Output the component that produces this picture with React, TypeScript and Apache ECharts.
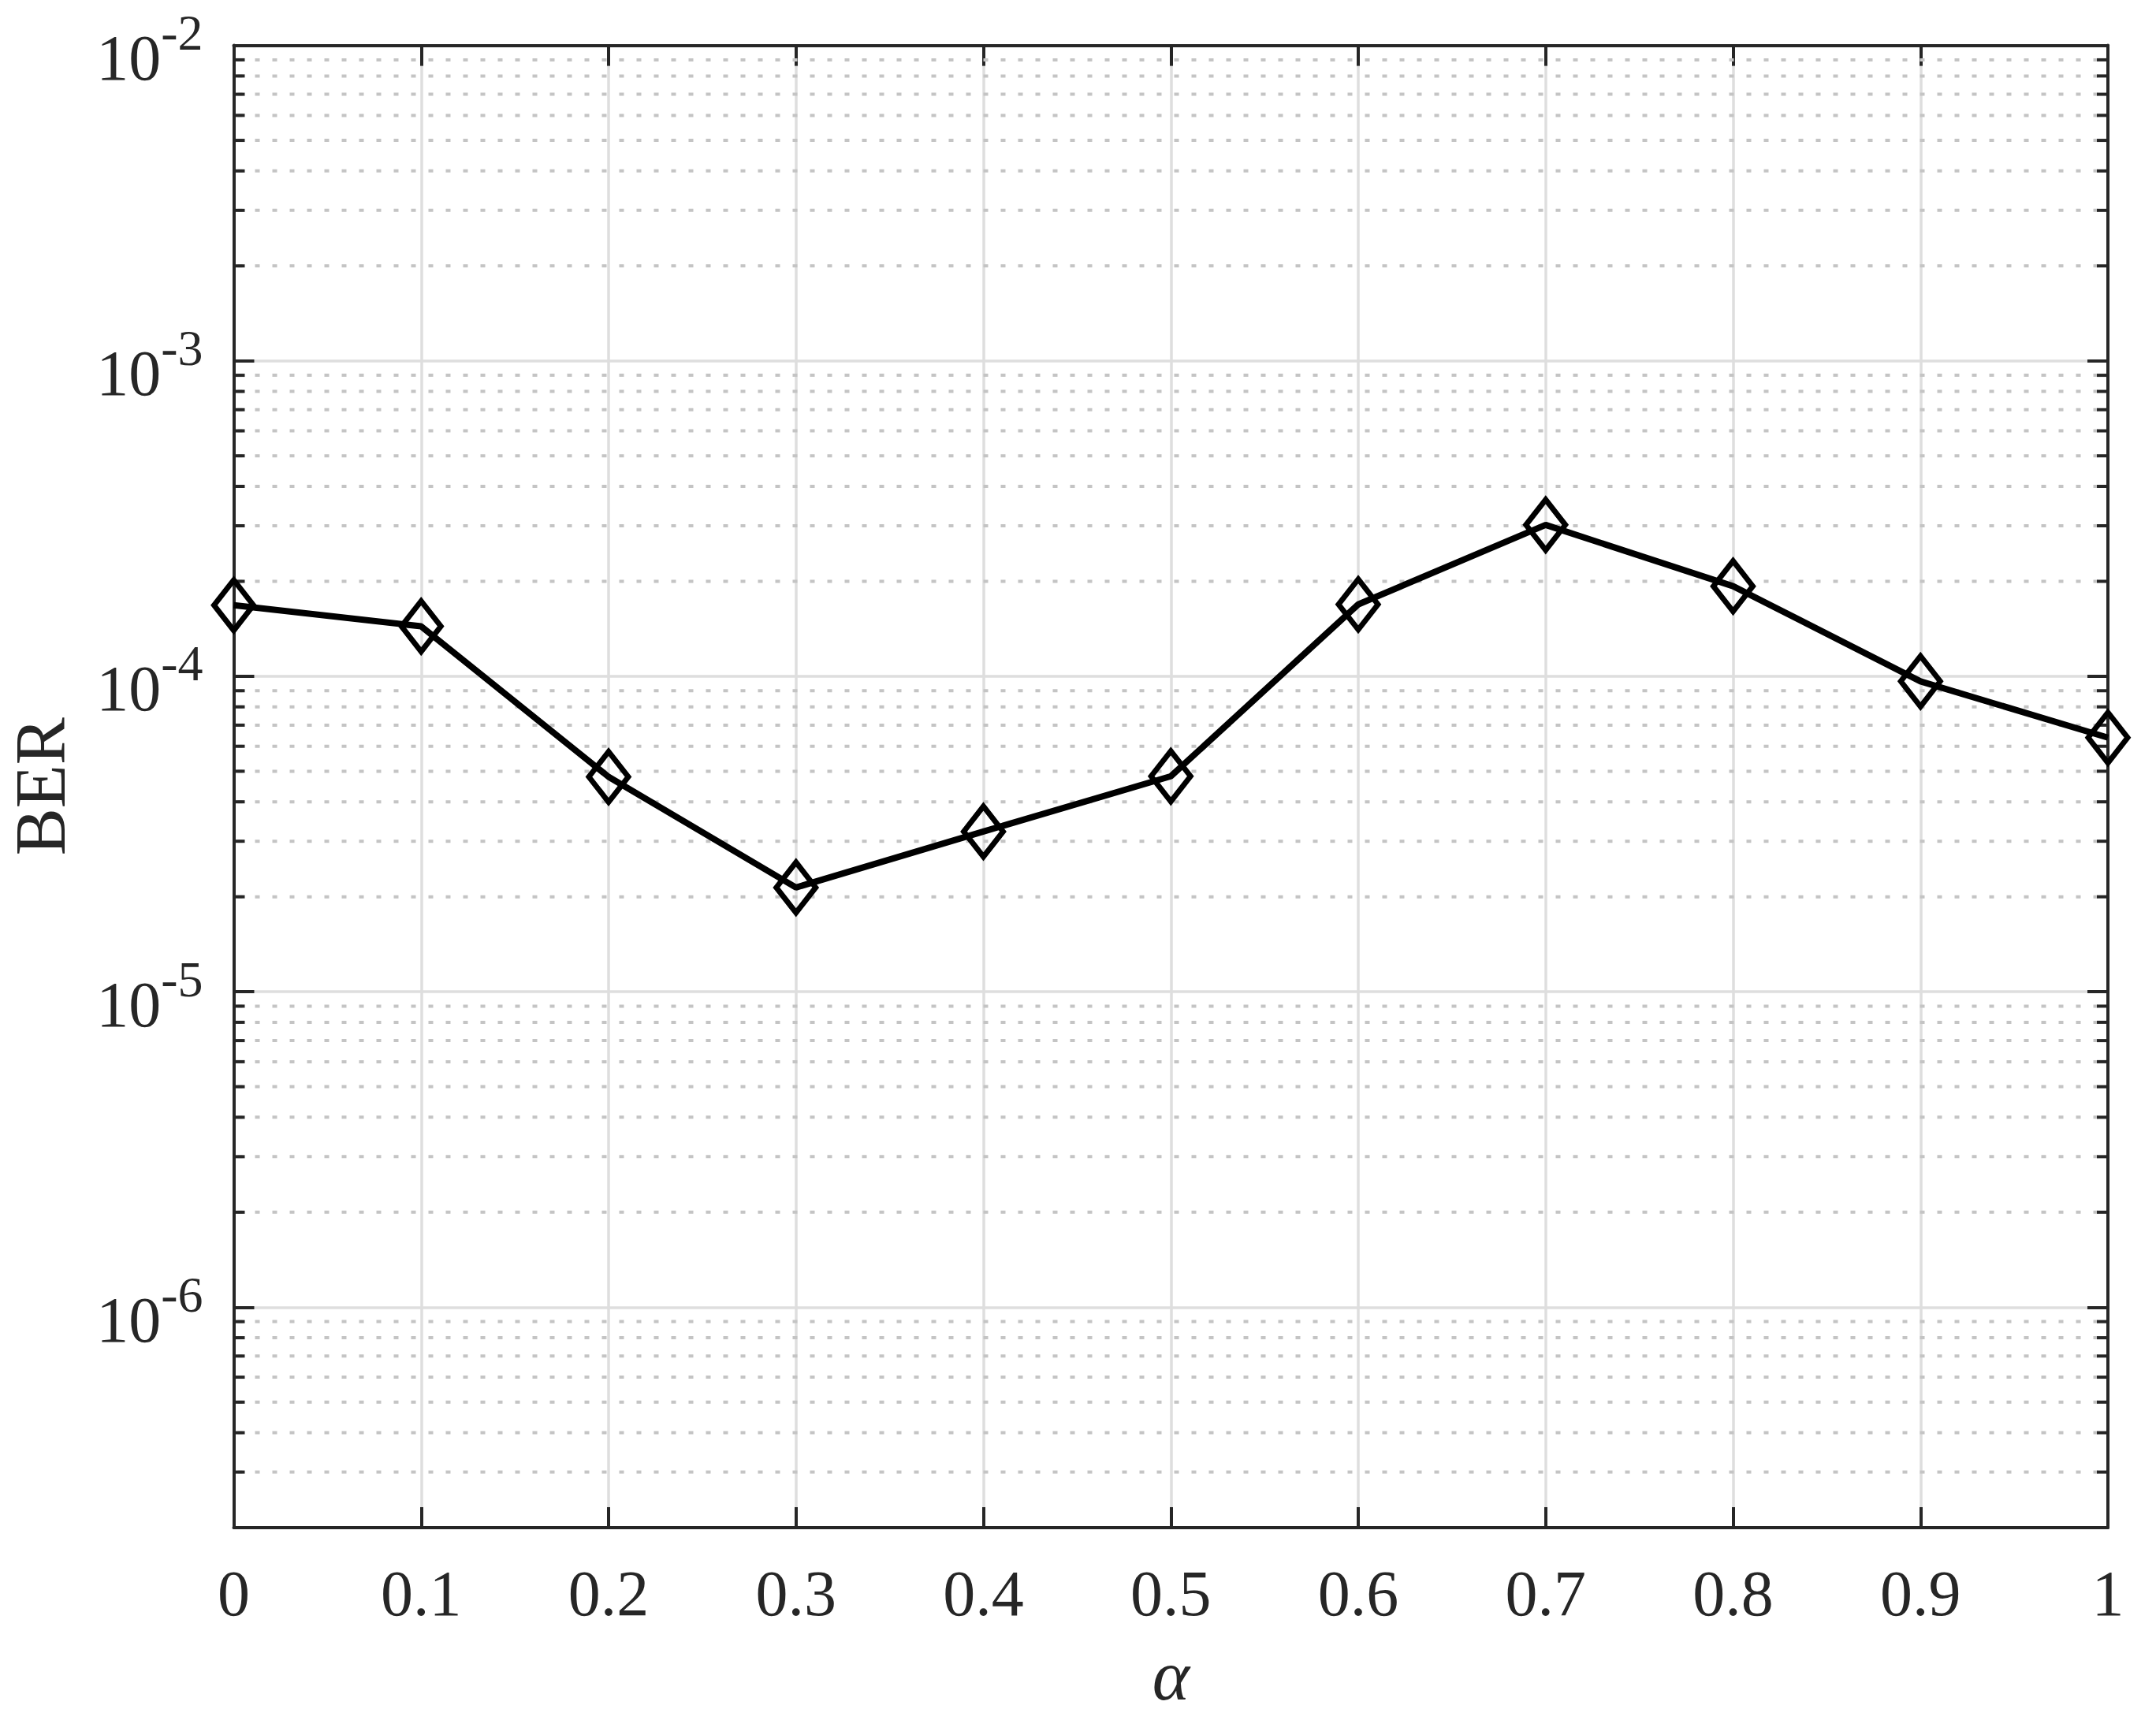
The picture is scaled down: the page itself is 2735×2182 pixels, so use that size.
import React, { useEffect, useRef } from "react";
import * as echarts from "echarts";

// ---- data ----
const alpha = [0, 0.1, 0.2, 0.3, 0.4, 0.5, 0.6, 0.7, 0.8, 0.9, 1.0];
const ber = [1.68e-4, 1.44e-4, 4.8e-5, 2.14e-5, 3.22e-5, 4.82e-5, 1.69e-4, 3.02e-4, 1.93e-4, 9.64e-5, 6.39e-5];

// axis extents
const xMin = 0;
const xMax = 1;
const xInterval = 0.1;
const yMin = 2e-7;
const yMax = 1e-2;

// labelled decades on the y axis (exponents)
const yDecadeExponents = [-6, -5, -4, -3, -2];

// minor (dotted) log grid: mantissas x decades
const minorMantissas = [2, 3, 4, 5, 6, 7, 8, 9];
const minorDecades = [-7, -6, -5, -4, -3];

const FONT = "'Liberation Serif', 'Times New Roman', serif";
const AXIS_COLOR = "#262626";
const GRID_COLOR = "#dedede";
const MINOR_COLOR = "#c4c4c4";

const TICK_FONT_SIZE = 82;
const SUP_FONT_SIZE = 64;

export default function App() {
  const ref = useRef<HTMLDivElement>(null);

  useEffect(() => {
    if (!ref.current) return;
    const chart = echarts.init(ref.current, undefined, { renderer: "svg" });

    const minorValues: number[] = [];
    minorDecades.forEach((d) => {
      minorMantissas.forEach((m) => {
        const v = m * Math.pow(10, d);
        if (v > yMin * 1.0001 && v < yMax) minorValues.push(v);
      });
    });

    // measure superscript widths so that "10" sits right before it
    const cv = document.createElement("canvas");
    const ctx = cv.getContext("2d");
    const supWidth = (s: string) => {
      if (!ctx) return s.length * SUP_FONT_SIZE * 0.45;
      ctx.font = SUP_FONT_SIZE + "px 'Liberation Serif', 'Times New Roman', serif";
      return ctx.measureText(s).width;
    };

    const axisLineStyle = { color: AXIS_COLOR, width: 4 };
    const LABEL_GAP = 39;

    const option: any = {
      animation: false,
      backgroundColor: "#ffffff",
      grid: {
        left: 296.5,
        right: 61,
        top: 57.6,
        bottom: 244,
        containLabel: false,
        outerBoundsMode: "none",
      },
      xAxis: [
        {
          type: "value",
          position: "bottom",
          min: xMin,
          max: xMax,
          interval: xInterval,
          name: "α",
          nameLocation: "middle",
          nameGap: 142,
          nameTextStyle: { fontFamily: FONT, fontSize: 90, fontStyle: "italic", color: AXIS_COLOR },
          axisLine: { show: true, onZero: false, lineStyle: axisLineStyle },
          axisTick: { show: true, inside: true, length: 26, lineStyle: { color: AXIS_COLOR, width: 4 } },
          axisLabel: {
            show: true,
            margin: 42,
            fontFamily: FONT,
            fontSize: TICK_FONT_SIZE,
            color: AXIS_COLOR,
            formatter: (v: number) => String(Math.round(v * 10) / 10),
          },
          splitLine: { show: true, lineStyle: { color: GRID_COLOR, width: 3.5, type: "solid" } },
        },
        {
          type: "value",
          position: "top",
          min: xMin,
          max: xMax,
          interval: xInterval,
          axisLine: { show: true, onZero: false, lineStyle: axisLineStyle },
          axisTick: { show: true, inside: true, length: 26, lineStyle: { color: AXIS_COLOR, width: 4 } },
          axisLabel: { show: false },
          splitLine: { show: false },
        },
      ],
      yAxis: [
        {
          type: "log",
          logBase: 10,
          position: "left",
          min: yMin,
          max: yMax,
          name: "BER",
          nameLocation: "middle",
          nameGap: 200,
          nameRotate: 90,
          nameTextStyle: { fontFamily: FONT, fontSize: 90, color: AXIS_COLOR },
          axisLine: { show: true, onZero: false, lineStyle: axisLineStyle },
          axisTick: { show: true, inside: true, length: 26, lineStyle: { color: AXIS_COLOR, width: 4 } },
          axisLabel: { show: false },
          splitLine: { show: true, lineStyle: { color: GRID_COLOR, width: 3.5, type: "solid" } },
          minorTick: { show: false },
          minorSplitLine: { show: false },
        },
        {
          type: "log",
          logBase: 10,
          position: "right",
          min: yMin,
          max: yMax,
          axisLine: { show: true, onZero: false, lineStyle: axisLineStyle },
          axisTick: { show: true, inside: true, length: 26, lineStyle: { color: AXIS_COLOR, width: 4 } },
          axisLabel: { show: false },
          splitLine: { show: false },
        },
      ],
      series: [
        {
          type: "custom",
          name: "minorGrid",
          xAxisIndex: 0,
          yAxisIndex: 0,
          z: 1,
          silent: true,
          clip: false,
          data: minorValues.map((v) => [xMin, v]),
          renderItem: (params: any, api: any) => {
            const y = api.value(1);
            const p0 = api.coord([xMin, y]);
            const p1 = api.coord([xMax, y]);
            return {
              type: "group",
              children: [
                {
                  type: "line",
                  shape: { x1: p0[0], y1: p0[1], x2: p1[0], y2: p1[1] },
                  style: { stroke: MINOR_COLOR, lineWidth: 4, lineDash: [6, 16], lineDashOffset: 17 },
                },
                {
                  type: "line",
                  shape: { x1: p0[0], y1: p0[1], x2: p0[0] + 14, y2: p0[1] },
                  style: { stroke: AXIS_COLOR, lineWidth: 4 },
                },
                {
                  type: "line",
                  shape: { x1: p1[0] - 14, y1: p1[1], x2: p1[0], y2: p1[1] },
                  style: { stroke: AXIS_COLOR, lineWidth: 4 },
                },
              ],
            };
          },
        },
        {
          type: "custom",
          name: "yTickLabels",
          xAxisIndex: 0,
          yAxisIndex: 0,
          z: 5,
          silent: true,
          clip: false,
          data: yDecadeExponents.map((e) => [xMin, Math.pow(10, e), e]),
          renderItem: (params: any, api: any) => {
            const e = api.value(2);
            const p = api.coord([xMin, api.value(1)]);
            const sup = e < 0 ? "-" + Math.abs(e) : String(e);
            const right = p[0] - LABEL_GAP;
            const sw = supWidth(sup);
            return {
              type: "group",
              children: [
                {
                  type: "text",
                  x: right - sw,
                  y: p[1] + 16,
                  style: {
                    text: "10",
                    fontFamily: FONT,
                    fontSize: TICK_FONT_SIZE,
                    fill: AXIS_COLOR,
                    align: "right",
                    verticalAlign: "middle",
                  },
                },
                {
                  type: "text",
                  x: right,
                  y: p[1] - 16,
                  style: {
                    text: sup,
                    fontFamily: FONT,
                    fontSize: SUP_FONT_SIZE,
                    fill: AXIS_COLOR,
                    align: "right",
                    verticalAlign: "middle",
                  },
                },
              ],
            };
          },
        },
        {
          type: "line",
          name: "BER",
          xAxisIndex: 0,
          yAxisIndex: 0,
          z: 3,
          clip: false,
          data: alpha.map((a, i) => [a, ber[i]]),
          symbol: "diamond",
          symbolSize: [50, 64],
          showAllSymbol: true,
          lineStyle: { color: "#000000", width: 8 },
          itemStyle: { color: "rgba(255,255,255,0)", borderColor: "#000000", borderWidth: 7 },
        },
      ],
    };

    chart.setOption(option);
    return () => {
      chart.dispose();
    };
  }, []);

  return (
    <div
      ref={ref}
      style={{ position: "fixed", left: 0, top: 0, width: 2735, height: 2182, background: "#ffffff" }}
    />
  );
}
